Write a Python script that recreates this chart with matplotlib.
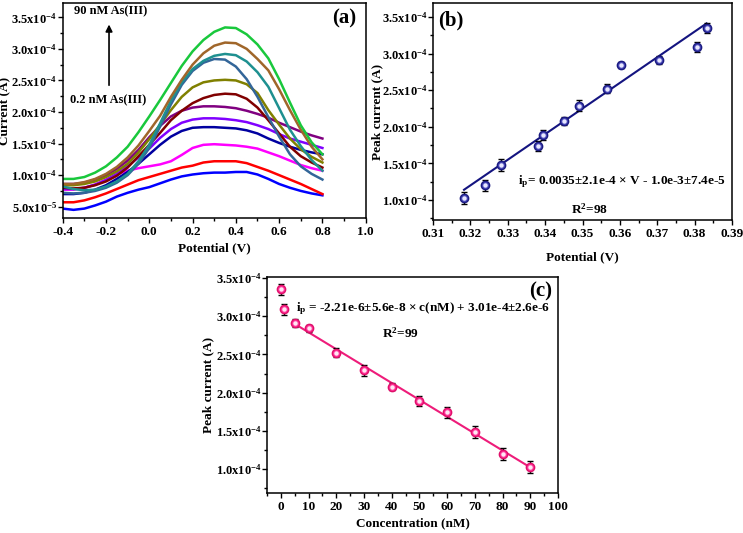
import numpy as np
import matplotlib
matplotlib.use("Agg")
import matplotlib.pyplot as plt
from matplotlib.ticker import MultipleLocator, FuncFormatter

plt.rcParams['font.family'] = ['Liberation Serif', 'DejaVu Serif']
plt.rcParams['font.weight'] = 'bold'
plt.rcParams['axes.labelweight'] = 'bold'
plt.rcParams['mathtext.fontset'] = 'custom'
plt.rcParams['mathtext.rm'] = 'Liberation Serif:bold'
plt.rcParams['mathtext.it'] = 'Liberation Serif:italic:bold'
plt.rcParams['mathtext.bf'] = 'Liberation Serif:bold'

# ---- data: (a) DPV curves, current in units of 1e-4 A ----
potential = [-0.40, -0.35, -0.30, -0.25, -0.20, -0.15, -0.10, -0.05, 0.00, 0.05,
             0.10, 0.15, 0.20, 0.25, 0.30, 0.35, 0.40, 0.45, 0.50, 0.55,
             0.60, 0.65, 0.70, 0.75, 0.80]

cur_blue = [0.47, 0.45, 0.47, 0.52, 0.58, 0.66, 0.72, 0.77, 0.81, 0.87, 0.93, 0.98, 1.01,
            1.03, 1.04, 1.04, 1.05, 1.05, 1.01, 0.94, 0.86, 0.80, 0.75, 0.71, 0.68]
cur_red = [0.57, 0.57, 0.60, 0.65, 0.71, 0.78, 0.85, 0.92, 0.97, 1.02, 1.07, 1.12, 1.15,
           1.20, 1.22, 1.22, 1.22, 1.19, 1.13, 1.07, 1.00, 0.93, 0.86, 0.78, 0.70]
cur_magenta = [0.77, 0.77, 0.80, 0.85, 0.93, 1.01, 1.07, 1.11, 1.14, 1.17, 1.22, 1.32, 1.43,
               1.48, 1.49, 1.48, 1.47, 1.45, 1.42, 1.36, 1.30, 1.23, 1.16, 1.11, 1.07]
cur_navy = [0.70, 0.70, 0.72, 0.77, 0.84, 0.94, 1.05, 1.18, 1.33, 1.48, 1.61, 1.70, 1.75,
            1.76, 1.76, 1.75, 1.74, 1.71, 1.66, 1.58, 1.51, 1.45, 1.40, 1.36, 1.33]
cur_violet = [0.78, 0.78, 0.80, 0.85, 0.92, 1.02, 1.14, 1.28, 1.42, 1.59, 1.73, 1.83, 1.88,
              1.90, 1.90, 1.89, 1.87, 1.84, 1.79, 1.73, 1.65, 1.58, 1.53, 1.48, 1.43]
cur_purple = [0.86, 0.86, 0.88, 0.93, 1.00, 1.10, 1.23, 1.40, 1.60, 1.78, 1.93, 2.02, 2.07,
              2.09, 2.09, 2.08, 2.06, 2.02, 1.97, 1.91, 1.83, 1.76, 1.69, 1.63, 1.58]
cur_wine = [0.80, 0.79, 0.80, 0.84, 0.90, 0.99, 1.12, 1.30, 1.48, 1.67, 1.87, 2.02, 2.14,
            2.22, 2.27, 2.29, 2.28, 2.21, 2.07, 1.87, 1.66, 1.45, 1.30, 1.20, 1.12]
cur_olive = [0.84, 0.84, 0.86, 0.90, 0.97, 1.06, 1.18, 1.36, 1.57, 1.80, 2.03, 2.24, 2.39,
             2.47, 2.50, 2.51, 2.50, 2.44, 2.30, 2.03, 1.80, 1.58, 1.41, 1.29, 1.20]
cur_royal = [0.72, 0.71, 0.72, 0.75, 0.80, 0.88, 1.00, 1.18, 1.43, 1.77, 2.12, 2.43, 2.65,
             2.78, 2.84, 2.83, 2.72, 2.52, 2.24, 1.92, 1.61, 1.33, 1.14, 1.02, 0.93]
cur_cyan = [0.82, 0.78, 0.76, 0.77, 0.82, 0.90, 1.02, 1.22, 1.48, 1.82, 2.18, 2.47, 2.68,
            2.81, 2.89, 2.92, 2.90, 2.80, 2.63, 2.40, 2.06, 1.72, 1.46, 1.24, 1.07]
cur_brown = [0.86, 0.86, 0.89, 0.94, 1.02, 1.13, 1.28, 1.47, 1.70, 1.94, 2.24, 2.51, 2.75,
             2.93, 3.05, 3.10, 3.09, 3.00, 2.84, 2.66, 2.36, 2.03, 1.72, 1.45, 1.25]
cur_green = [0.94, 0.94, 0.97, 1.04, 1.14, 1.28, 1.45, 1.68, 1.93, 2.19, 2.46, 2.73, 2.96,
             3.14, 3.27, 3.34, 3.33, 3.23, 3.07, 2.85, 2.52, 2.15, 1.79, 1.52, 1.33]

curves = [cur_blue, cur_red, cur_magenta, cur_navy, cur_violet, cur_purple,
          cur_wine, cur_olive, cur_royal, cur_cyan, cur_brown, cur_green]
curve_colors = ['#0000FF', '#FF0000', '#FF00FF', '#0000A0', '#8000FF', '#800080',
                '#800000', '#808000', '#336699', '#1E9090', '#A0662A', '#19C83C']

# ---- data: (b) and (c) ----
peak_potential = [0.3183, 0.3240, 0.3281, 0.3381, 0.3394, 0.3450, 0.3491, 0.3565,
                  0.3603, 0.3705, 0.3806, 0.3832]
peak_current = [1.03, 1.20, 1.48, 1.74, 1.89, 2.08, 2.29, 2.52, 2.84, 2.91, 3.09, 3.35]
peak_err = [0.08, 0.08, 0.08, 0.07, 0.07, 0.05, 0.07, 0.06, 0.04, 0.05, 0.07, 0.07]
concentration = [90, 80, 70, 60, 50, 40, 30, 20, 10, 5, 1, 0.2]

fit_b = (0.0035, -1.0e-3)       # slope, intercept
fit_c = (-2.21e-6, 3.01e-4)

E = 1e-4
XTICK_FS = 9.5
YTICK_FS = 9
LABEL_FS = 9.5


def sci_fmt(v, pos):
    if v <= 0:
        return ''
    e = int(np.floor(np.log10(v) + 1e-9))
    m = v / 10 ** e
    return f'{m:.1f}x10$^{{{e}}}$'


def style_axes(ax):
    for s in ax.spines.values():
        s.set_linewidth(1.1)
    ax.tick_params(which='both', direction='out', top=False, right=False, width=1.0)
    ax.tick_params(which='major', length=3.5)
    ax.tick_params(which='minor', length=2)
    ax.tick_params(axis='y', pad=0.5, labelsize=YTICK_FS)
    ax.tick_params(axis='x', pad=2.5, labelsize=XTICK_FS)
    ax.yaxis.set_major_locator(MultipleLocator(5e-5))
    ax.yaxis.set_minor_locator(MultipleLocator(2.5e-5))
    ax.yaxis.set_major_formatter(FuncFormatter(sci_fmt))


fig = plt.figure(figsize=(7.43, 5.33), dpi=100)

# ---------- (a) ----------
ax1 = fig.add_axes([0.0844, 0.591, 0.4078, 0.4034])
for c, col in zip(curves, curve_colors):
    ax1.plot(potential, np.array(c) * E, color=col, lw=1.8)
ax1.set_xlim(-0.4, 1.0)
ax1.set_ylim(0.321e-4, 3.727e-4)
style_axes(ax1)
ax1.xaxis.set_major_locator(MultipleLocator(0.2))
ax1.xaxis.set_minor_locator(MultipleLocator(0.1))
ax1.xaxis.set_major_formatter(FuncFormatter(lambda v, p: f'{v:.1f}'))
ax1.set_xlabel('Potential (V)', fontsize=LABEL_FS)
ax1.set_ylabel('Current (A)', fontsize=LABEL_FS)
ax1.xaxis.set_label_coords(0.5, -0.112)
ax1.yaxis.set_label_coords(-0.17, 0.5)
ax1.text(0.93, 0.93, '(a)', transform=ax1.transAxes, fontsize=15,
         ha='center', va='center')
ax1.annotate('', xy=(-0.186, 3.43e-4), xytext=(-0.186, 2.38e-4),
             arrowprops=dict(arrowstyle='-|>', color='black', lw=1.2,
                             mutation_scale=10))
ax1.text(-0.18, 3.6e-4, '90 nM As(III)', fontsize=9, ha='center', va='center')
ax1.text(-0.19, 2.19e-4, '0.2 nM As(III)', fontsize=9, ha='center', va='center')

# ---------- (b) ----------
ax2 = fig.add_axes([0.5828, 0.5872, 0.4024, 0.4071])
pc = np.array(peak_current) * E
pe = np.array(peak_err) * E
xb = np.array([peak_potential[0], peak_potential[-1]])
ax2.plot(xb, fit_b[0] * xb + fit_b[1], color='#141480', lw=1.5, zorder=2)
ax2.errorbar(peak_potential, pc, yerr=pe, fmt='o', ms=6, mfc='#4848B8',
             mec='#1A1A80', mew=1.0, ecolor='black', elinewidth=1.0,
             capsize=2, capthick=1.0, zorder=3)
ax2.plot(peak_potential, pc, 'o', ms=2.2, color='#E8E8FF', zorder=4)
ax2.set_xlim(0.31, 0.39)
ax2.set_ylim(0.727e-4, 3.69e-4)
style_axes(ax2)
ax2.xaxis.set_major_locator(MultipleLocator(0.01))
ax2.xaxis.set_minor_locator(MultipleLocator(0.005))
ax2.xaxis.set_major_formatter(FuncFormatter(lambda v, p: f'{v:.2f}'))
ax2.set_xlabel('Potential (V)', fontsize=LABEL_FS)
ax2.set_ylabel('Peak current (A)', fontsize=LABEL_FS)
ax2.xaxis.set_label_coords(0.5, -0.143)
ax2.yaxis.set_label_coords(-0.168, 0.5)
ax2.text(0.06, 0.92, '(b)', transform=ax2.transAxes, fontsize=15,
         ha='center', va='center')
ax2.text(0.3327, 1.25e-4, 'i$_\\mathregular{p}$= 0.0035±2.1e-4 × V - 1.0e-3±7.4e-5',
         fontsize=9.5, ha='left', va='center')
ax2.text(0.352, 0.87e-4, 'R$^\\mathregular{2}$=98', fontsize=9.5,
         ha='center', va='center')

# ---------- (c) ----------
ax3 = fig.add_axes([0.3594, 0.075, 0.3917, 0.4058])
xc = np.array([5, 90])
ax3.plot(xc, fit_c[0] * xc + fit_c[1], color='#EE1C7A', lw=1.5, zorder=2)
ax3.errorbar(concentration, pc, yerr=pe, fmt='o', ms=6, mfc='#FF3399',
             mec='#E0106A', mew=1.0, ecolor='black', elinewidth=1.0,
             capsize=2, capthick=1.0, zorder=3)
ax3.plot(concentration, pc, 'o', ms=2.2, color='#FFE8F4', zorder=4)
ax3.set_xlim(-5, 100)
ax3.set_ylim(0.686e-4, 3.517e-4)
style_axes(ax3)
ax3.xaxis.set_major_locator(MultipleLocator(10))
ax3.xaxis.set_minor_locator(MultipleLocator(5))
ax3.set_xlabel('Concentration (nM)', fontsize=LABEL_FS)
ax3.set_ylabel('Peak current (A)', fontsize=LABEL_FS)
ax3.xaxis.set_label_coords(0.5, -0.111)
ax3.yaxis.set_label_coords(-0.18, 0.5)
ax3.text(0.94, 0.93, '(c)', transform=ax3.transAxes, fontsize=15,
         ha='center', va='center')
ax3.text(5.6, 3.1e-4, 'i$_\\mathregular{p}$ = -2.21e-6±5.6e-8 × c(nM) + 3.01e-4±2.6e-6',
         fontsize=9.5, ha='left', va='center')
ax3.text(43, 2.78e-4, 'R$^\\mathregular{2}$=99', fontsize=9.5,
         ha='center', va='center')

fig.savefig('out.png', dpi=100)
